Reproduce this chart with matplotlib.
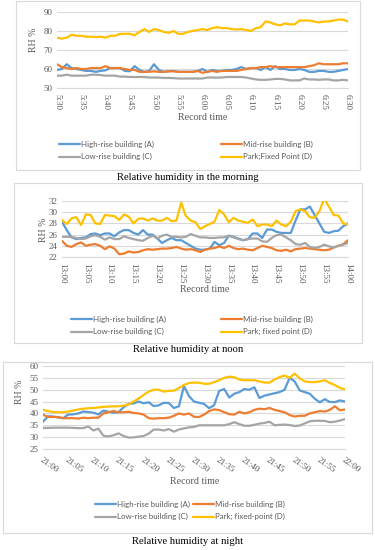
import numpy as np
import matplotlib
matplotlib.use('Agg')
import matplotlib.pyplot as plt
from matplotlib.patches import Rectangle

# minutes after start of each one-hour record
minutes = np.arange(61)

# ---- morning 5:30 - 6:30
am_ticks = ['5:30', '5:35', '5:40', '5:45', '5:50', '5:55', '6:00',
            '6:05', '6:10', '6:15', '6:20', '6:25', '6:30']
am_A = [59.5, 60, 62.5, 60.5, 60, 59.5, 59, 59, 58.5, 59,
        59.3, 60.5, 60.5, 60.5, 59, 58.8, 61.5, 59.5, 58.5, 59,
        62.5, 59.5, 58.5, 58.8, 59, 58.5, 58.5, 58.5, 58.5, 59,
        60, 58.5, 59.5, 59, 59, 59.5, 59.5, 60, 61, 60,
        60.5, 60.5, 59.5, 61, 59.5, 61.5, 60, 60, 59.5, 59.5,
        60, 59.5, 58.5, 58.5, 59, 59, 58.5, 58.5, 59, 59.5, 60]
am_B = [62.5, 61, 60.5, 60, 60.5, 60, 60, 60.5, 60.5, 60.5,
        61.5, 60.5, 60.5, 60.5, 60, 59.5, 59.5, 58.5, 58.5, 58.5,
        58.8, 58.5, 58.5, 58.8, 58.8, 58.5, 58.5, 58.5, 58.5, 59,
        58, 58.5, 59, 58.5, 59, 59, 59, 59, 59.5, 60,
        60.5, 60.5, 61, 61, 61.5, 61, 61, 61, 61, 61,
        61, 61, 61.5, 62, 63, 62.5, 62.5, 62.5, 62.5, 63, 63]
am_C = [56.5, 56.5, 57, 56.5, 56.5, 56.5, 56.5, 57, 57, 56.8,
        56.5, 56.5, 56.5, 56, 56, 55.8, 55.8, 55.8, 55.8, 55.5,
        55.5, 55.5, 55.3, 55.3, 55.2, 55, 55, 55, 55, 55,
        55, 55.5, 55.5, 55.5, 55.5, 55.8, 55.8, 55.8, 55.8, 55.5,
        55, 54.5, 54.3, 54.3, 54.5, 54.8, 54.8, 54.5, 54, 54,
        54, 55, 54.5, 54.5, 54.3, 54.5, 54.5, 54, 54, 54.3, 54]
am_D = [76.5, 76, 76.5, 78, 77.5, 77.5, 77, 77, 76.8, 77,
        76.5, 77.5, 77.5, 78.5, 78.5, 78.5, 77.8, 79.5, 81, 79.5,
        81, 80.5, 79.5, 79, 80, 78.5, 78.5, 79.5, 80, 80.5,
        81, 80.5, 81.5, 82, 81.5, 81.5, 81, 80.8, 81, 80.5,
        80, 81.5, 82, 85, 84.5, 83.5, 83, 84, 83.5, 83.5,
        85.5, 85.5, 85.5, 85, 84.5, 85, 85, 85.5, 86, 86, 85]

# ---- noon 13:00 - 14:00
nn_ticks = ['13:00', '13:05', '13:10', '13:15', '13:20', '13:25', '13:30',
            '13:35', '13:40', '13:45', '13:50', '13:55', '14:00']
nn_A = [28.3, 26.8, 25.5, 25.2, 25.4, 25.5, 26.1, 26.2, 25.9, 26.2,
        26.2, 25.7, 26.4, 26.8, 26.8, 26.3, 26, 26.8, 26, 26,
        25.3, 24.5, 25, 25.4, 25, 25, 24.5, 24, 23.5, 23.3,
        23.3, 23.5, 24.7, 24.1, 24.5, 25.8, 25.6, 25.3, 25, 25.2,
        26.2, 26.2, 25.4, 26.9, 26.9, 26.5, 26.3, 26.3, 26.3, 28.5,
        30.5, 30.5, 31, 29.5, 28, 26.5, 26.3, 26.6, 26.7, 27.5, 28]
nn_B = [24.9, 24, 23.8, 24.3, 24.6, 24, 24.2, 24.3, 24, 23.4,
        23.9, 23.5, 22.5, 22.6, 23, 22.8, 22.9, 23.2, 23.4, 23.3,
        23.4, 23.5, 23.5, 23.6, 23.8, 23.5, 23.3, 23.4, 23.2, 22.9,
        23.3, 23.5, 23.6, 23.9, 23.6, 24, 23.6, 23.4, 23.5, 23.3,
        23.2, 23.6, 24, 23.8, 23.6, 23.2, 23.1, 23.3, 23, 23.4,
        23.5, 23.6, 23.5, 23.4, 23.3, 23.2, 23.3, 23.7, 24, 24.3, 25]
nn_C = [25.6, 25.6, 25.6, 25.4, 25.2, 25.3, 25.7, 25.9, 25.6, 25.1,
        25.5, 25.2, 25.2, 25.7, 25.4, 25.2, 25, 24.9, 25.4, 25.8,
        25.3, 25.8, 26, 25.6, 25.6, 25.5, 25.6, 26.1, 25.8, 25.5,
        25.5, 25.4, 25.4, 25.5, 25.5, 25.8, 25.5, 25.2, 25, 25.2,
        25.3, 25.3, 24.8, 24.7, 25.4, 25.9, 26, 25.5, 25, 24.3,
        24.2, 24.5, 23.8, 23.6, 23.8, 24.2, 23.9, 23.7, 24, 24.2, 24.5]
nn_D = [28.6, 27.9, 28.9, 29.1, 27.7, 29.6, 29.5, 28, 27.9, 29.5,
        29.4, 29.3, 28.6, 29.6, 29.2, 28, 28.8, 28.9, 28.5, 28.9,
        28.5, 28.5, 29, 28.4, 28.5, 31.7, 29.3, 28.5, 28.2, 27,
        27.5, 27.9, 28.3, 30.4, 29.6, 28.2, 29, 28.5, 28.3, 28.1,
        28.7, 27.5, 27.8, 27.8, 27.5, 28.5, 27.8, 27.5, 28.3, 30.2,
        30.5, 30.2, 29.1, 29, 30.2, 32.4, 31, 29.5, 29.4, 28, 27.8]

# ---- night 21:00 - 22:00
nt_ticks = ['21:00', '21:05', '21:10', '21:15', '21:20', '21:25', '21:30',
            '21:35', '21:40', '21:45', '21:50', '21:55', '22:00']
nt_A = [36.5, 38.8, 38.7, 38.3, 38, 39.5, 39.6, 40, 40.8, 40.6,
        40.3, 39.6, 41.2, 40.7, 40.3, 40.5, 42.6, 44, 44.2, 45,
        44.3, 44.7, 43.1, 43.4, 44.5, 44.4, 42.3, 43, 51.5, 47.3,
        45, 44.5, 44, 42.2, 43.5, 49.5, 50.3, 46.7, 48.3, 49,
        50.3, 50, 51, 46.5, 47.5, 48, 48.5, 49, 50, 55,
        53.5, 49.7, 49, 48.3, 46.2, 44.7, 46, 44.8, 44.8, 45.5, 45]
nt_B = [39.5, 38.5, 38.5, 38.5, 38, 38, 38, 37.8, 38.2, 38,
        38.2, 38.2, 40, 40.5, 41, 40.5, 40.5, 40.7, 40.2, 40,
        39.5, 38, 37.8, 38, 38, 38.2, 39, 40, 39.5, 40,
        38.6, 38.5, 39.5, 41, 41.7, 41.4, 40.5, 39.7, 39.5, 40.7,
        40, 40.5, 41.5, 42, 41.8, 42.3, 41.5, 41, 40.5, 39.3,
        38.7, 39, 39, 40, 40.5, 41, 40.8, 41.5, 43, 41.3, 41.7]
nt_C = [33.9, 33.9, 34, 34, 34, 34, 33.9, 33.8, 33.8, 34.5,
        32.8, 33.6, 30.6, 30.3, 30.8, 31.6, 30.5, 29.8, 29.9, 30.2,
        30.5, 31.5, 33.2, 33.2, 32.8, 33.4, 32.3, 33.2, 33.7, 34.1,
        34.3, 35, 35, 35, 35, 35, 35, 35.5, 36.3, 35.5,
        34.8, 34.8, 35.2, 35.7, 36, 36.5, 35, 35.2, 35.3, 35.1,
        34.7, 34.9, 35.8, 36.7, 36.9, 36.9, 36.8, 36.3, 36.5, 37, 37.6]
nt_D = [41.5, 41, 40.6, 40.5, 40.5, 40.8, 41.2, 41.7, 42, 42.2,
        42.3, 42.5, 42.8, 42.9, 43, 43, 43.3, 43.8, 45, 46.3,
        47.8, 49.2, 50, 50, 49.2, 49.5, 49.6, 50.7, 52, 52.8,
        53, 53, 52.5, 52.5, 53.2, 54, 55, 55.5, 55.3, 54.3,
        54, 54, 54, 53.5, 53, 53, 54.3, 55.3, 56, 55,
        56.8, 54.8, 53.5, 53.2, 53.2, 53.5, 54, 52.8, 52, 50.7, 50.2]

colors = ['#5B9BD5', '#ED7D31', '#A5A5A5', '#FFC000']
grey_txt = '#595959'
serif = 'Liberation Serif'
sans = 'Lato'

W, H = 375, 550
fig = plt.figure(figsize=(3.75, 5.5), dpi=100)


def fx(px):
    return px / W


def fy(py):
    return 1 - py / H


def panel(box, axrect, series, names, ticks, ylim, ystep, rot,
          xlab_pos, ylab_pos, title, title_y, leg_rows, leg_cols):
    # chart border
    bx0, by0, bx1, by1 = box
    fig.patches.append(Rectangle((fx(bx0), fy(by1)), fx(bx1 - bx0), (by1 - by0) / H,
                                 transform=fig.transFigure, fill=False,
                                 edgecolor='#d9d9d9', lw=0.8))
    x0, y0, x1, y1 = axrect
    ax = fig.add_axes([fx(x0), fy(y1), fx(x1 - x0), (y1 - y0) / H])
    lines = []
    for s, c, n in zip(series, colors, names):
        ln, = ax.plot(minutes, s, color=c, lw=1.6, label=n, solid_capstyle='round')
        lines.append(ln)
    ax.set_xlim(0, 60)
    ax.set_ylim(*ylim)
    ax.set_yticks(np.arange(ylim[0], ylim[1] + 0.1, ystep))
    ax.yaxis.grid(True, color='#d9d9d9', lw=0.8)
    ax.set_axisbelow(True)
    for sp in ['top', 'right', 'left']:
        ax.spines[sp].set_visible(False)
    ax.spines['bottom'].set_color('#d9d9d9')
    ax.spines['bottom'].set_linewidth(0.8)
    ax.tick_params(length=0, labelsize=6.5, labelcolor=grey_txt, pad=3)
    for t in ax.get_yticklabels():
        t.set_family(serif)
    ax.set_xticks(np.arange(0, 61, 5))
    if rot == -90:
        ax.set_xticklabels(ticks, rotation=-90, family=serif, fontsize=6.5,
                           va='top', ha='center')
        ax.tick_params(axis='x', pad=4)
    else:
        ax.set_xticklabels(ticks, rotation=rot, family=serif, fontsize=6.5,
                           ha='left', va='top', rotation_mode='anchor')
        ax.tick_params(axis='x', pad=5)
    fig.text(fx(xlab_pos[0]), fy(xlab_pos[1]), 'Record time', family=serif,
             fontsize=7.2, color=grey_txt, ha='center', va='center')
    fig.text(fx(ylab_pos[0]), fy(ylab_pos[1]), 'RH %', family=serif,
             fontsize=7, color=grey_txt, ha='center', va='center', rotation=90)
    fig.text(fx(188), fy(title_y), title, family=serif, fontsize=7.6,
             color='black', ha='center', va='center')
    # legend, two columns, Excel row order
    for col, idx in zip(leg_cols, [(0, 2), (1, 3)]):
        leg = fig.legend([lines[i] for i in idx], [names[i] for i in idx],
                         loc='upper left', bbox_to_anchor=(fx(col), fy(leg_rows)),
                         bbox_transform=fig.transFigure, frameon=False,
                         prop={'family': sans, 'size': 5.7}, handlelength=2.6,
                         handletextpad=0.15, borderpad=0, borderaxespad=0,
                         labelspacing=0.65)
        for t in leg.get_texts():
            t.set_color(grey_txt)
    return ax


panel((16, 1, 360, 170), (57, 12, 348, 88), [am_A, am_B, am_C, am_D],
      ['High-rise building (A)', 'Mid-rise building (B)',
       'Low-rise building (C)', 'Park;Fixed Point (D)'],
      am_ticks, (50, 90), 10, -90, (203, 117), (33, 40),
      'Relative humidity in the morning', 177, 141, (59, 221))

panel((14, 183, 362, 343), (62, 201, 348, 257), [nn_A, nn_B, nn_C, nn_D],
      ['High-rise building (A)', 'Mid-rise building (B)',
       'Low-rise building (C)', 'Park; fixed point (D)'],
      nn_ticks, (22, 32), 2, -90, (205, 290), (44, 230),
      'Relative humidity at noon', 350, 316, (71, 221))

panel((3, 362, 372, 533), (43, 366, 345, 449), [nt_A, nt_B, nt_C, nt_D],
      ['High-rise building (A)', 'Mid-rise building (B)',
       'Low-rise building (C)', 'Park; fixed-point (D)'],
      nt_ticks, (25, 60), 5, -35, (195, 482), (20, 392),
      'Relative humidity at night', 542, 501, (95, 193))

fig.savefig('out.png', dpi=100)
